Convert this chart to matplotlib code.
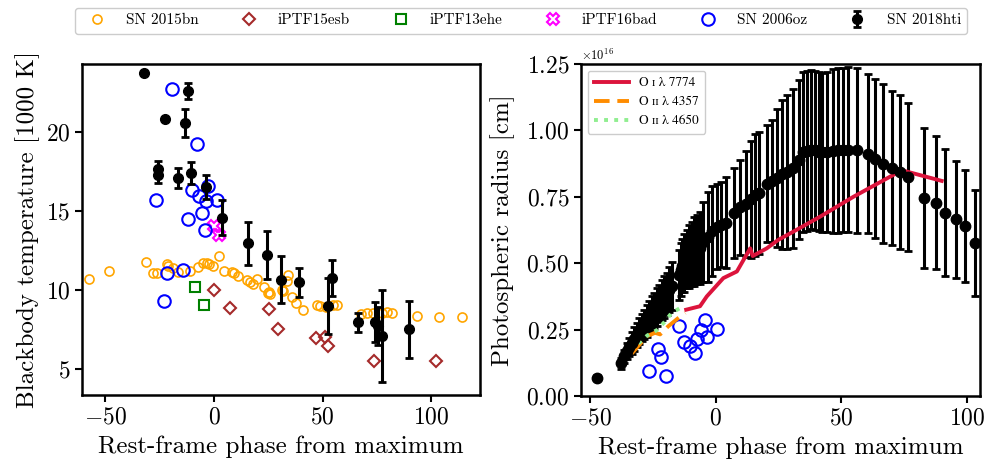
import matplotlib
matplotlib.use("Agg")
import matplotlib.pyplot as plt
import numpy as np

plt.rcParams['font.family'] = 'serif'
plt.rcParams['font.serif'] = ['cmr10', 'DejaVu Serif']
plt.rcParams['mathtext.fontset'] = 'cm'
plt.rcParams['axes.formatter.use_mathtext'] = True
plt.rcParams['axes.unicode_minus'] = True

# ---------------- Left panel data: blackbody temperature ----------------
sn15bn_phase = [-57.4, -48.2, -31.4, -28.2, -26.1, -21.8, -21.0, -19.0, -16.4, -11.0,
                -7.5, -4.9, -3.4, -2.2, -0.3, 2.3, 4.7, 8.1, 9.3, 11.2, 15.0, 16.6,
                17.8, 19.6, 23.1, 25.0, 25.4, 26.0, 31.4, 31.9, 33.4, 34.0, 36.0,
                37.7, 40.8, 47.2, 48.8, 51.5, 54.6, 56.7, 67.5, 70.2, 73.3, 77.1,
                79.4, 81.7, 93.2, 103.6, 114.1]
sn15bn_temp = [10.7, 11.22, 11.8, 11.06, 11.1, 11.65, 11.54, 11.37, 11.16, 11.2,
               11.47, 11.7, 11.7, 11.65, 11.5, 12.17, 11.22, 11.12, 11.06, 10.89,
               10.63, 10.53, 10.38, 10.7, 10.21, 9.81, 9.85, 9.78, 10.02, 9.95,
               10.59, 10.95, 9.58, 9.16, 8.75, 9.07, 8.97, 8.94, 9.05, 9.07, 8.48,
               8.54, 8.54, 8.54, 8.63, 8.53, 8.38, 8.31, 8.31]

esb_phase = [0.0, 7.5, 25.4, 29.6, 46.8, 51.1, 52.4, 73.6, 102.3]
esb_temp = [10.0, 8.88, 8.8, 7.53, 7.0, 7.04, 6.47, 5.5, 5.5]

ehe_phase = [-8.9, -4.7]
ehe_temp = [10.21, 9.03]

bad_phase = [0.0, 2.3]
bad_temp = [14.07, 13.5]

oz_phase = [-19.2, -7.7, -26.5, -10.0, -6.9, -2.6, -3.7, 1.4, -12.1, -5.5, -4.1,
            -21.6, -14.4, -22.9]
oz_temp = [22.7, 19.24, 15.7, 16.3, 15.95, 16.55, 15.6, 15.7, 14.47, 14.87, 13.78,
           11.06, 11.27, 9.28]

hti_phase = [-32.1, -22.7, -12.1, -13.2, -25.6, -25.6, -16.7, -10.6, -3.8, 3.7,
             15.6, 24.2, 30.8, 39.3, 52.4, 54.4, 66.5, 74.1, 75.5, 77.3, 89.6]
hti_temp = [23.7, 20.8, 22.55, 20.55, 17.66, 17.28, 17.07, 17.4, 16.5, 14.56,
            12.95, 12.2, 10.65, 10.49, 9.0, 10.76, 7.95, 7.99, 7.7, 7.09, 7.53]
hti_terr = [0.1, 0.15, 0.5, 0.9, 0.5, 0.5, 0.65, 0.7, 0.75, 1.1,
            1.35, 1.5, 1.48, 0.9, 1.75, 1.15, 0.58, 1.25, 1.2, 2.9, 1.8]

# ---------------- Right panel data: photospheric radius (1e16 cm) ----------------
r_phase = [-47.2, -37.7, -36.5, -35.5, -34.5, -33.5, -32.5, -31.5, -30.5, -29.5,
           -28.5, -27.5, -26.5, -25.5, -24.5, -23.5, -22.5, -21.5, -20.5, -19.5,
           -18.5, -17.5, -14.5, -14.0, -13.3, -12.5, -11.5, -10.5, -9.5, -8.5,
           -7.5, -6.3, -5.0, -3.3, -1.5, 0.4, 2.0, 4.1, 7.4, 9.5, 12.1, 14.0,
           15.7, 17.4, 20.3, 22.5, 24.5, 26.5, 28.5, 30.9, 33.0, 34.9, 36.5,
           38.0, 39.5, 41.0, 42.5, 44.2, 46.5, 48.8, 50.8, 52.8, 56.1, 60.8,
           63.5, 66.8, 70.1, 73.4, 76.7, 83.1, 87.8, 91.4, 95.7, 99.2, 103.3]
r_rad = [0.069, 0.123, 0.150, 0.170, 0.185, 0.200, 0.215, 0.230, 0.245, 0.258,
         0.270, 0.283, 0.296, 0.310, 0.322, 0.335, 0.348, 0.360, 0.372, 0.385,
         0.400, 0.415, 0.455, 0.475, 0.490, 0.500, 0.515, 0.525, 0.535, 0.545,
         0.550, 0.556, 0.580, 0.600, 0.620, 0.637, 0.645, 0.653, 0.690, 0.710,
         0.723, 0.740, 0.756, 0.763, 0.800, 0.810, 0.820, 0.835, 0.845, 0.857,
         0.890, 0.919, 0.922, 0.928, 0.925, 0.920, 0.918, 0.919, 0.922, 0.925,
         0.926, 0.928, 0.925, 0.913, 0.894, 0.875, 0.857, 0.844, 0.825, 0.746,
         0.728, 0.690, 0.666, 0.640, 0.575]
r_err = [0.01, 0.02, 0.025, 0.03, 0.035, 0.04, 0.045, 0.045, 0.05, 0.05,
         0.055, 0.06, 0.06, 0.065, 0.065, 0.07, 0.07, 0.075, 0.08, 0.08,
         0.085, 0.09, 0.095, 0.10, 0.10, 0.11, 0.11, 0.12, 0.12, 0.13,
         0.13, 0.135, 0.15, 0.17, 0.17, 0.16, 0.16, 0.17, 0.17, 0.18,
         0.20, 0.22, 0.23, 0.23, 0.22, 0.23, 0.26, 0.28, 0.29, 0.30,
         0.30, 0.30, 0.30, 0.30, 0.30, 0.30, 0.30, 0.30, 0.31, 0.31,
         0.31, 0.31, 0.31, 0.30, 0.30, 0.30, 0.29, 0.29, 0.28, 0.265,
         0.25, 0.24, 0.22, 0.21, 0.20]

oz_r_phase = [-26.8, -19.8, -23.1, -21.9, -14.6, -12.5, -10.2, -8.2, -7.3, -6.0,
              -4.3, -3.6, 0.6]
oz_r_rad = [0.094, 0.075, 0.178, 0.148, 0.265, 0.203, 0.19, 0.163, 0.215, 0.248,
            0.285, 0.223, 0.254]

oi7774_phase = [-11.8, -6.3, -3.6, 3.0, 8.4, 13.7, 14.7, 20.3, 24.9, 30.9, 41.5,
                54.8, 74.1, 90.0]
oi7774_rad = [0.325, 0.338, 0.375, 0.444, 0.469, 0.556, 0.527, 0.556, 0.588,
              0.619, 0.675, 0.750, 0.850, 0.810]

oii4357_phase = [-33.5, -27.5, -24.2, -22.2, -18.9, -14.9, -12.2]
oii4357_rad = [0.160, 0.225, 0.238, 0.232, 0.263, 0.294, 0.313]

oii4650_phase = [-33.9, -30.6, -27.3, -23.5, -20.2, -17.6, -13.5]
oii4650_rad = [0.173, 0.200, 0.228, 0.248, 0.281, 0.313, 0.335]

line_labels = ['O ɪ λ 7774', 'O ɪɪ λ 4357', 'O ɪɪ λ 4650']

SCALE = 1e16

fig = plt.figure(figsize=(9.87, 4.66), dpi=100)
axL = fig.add_axes([0.0831, 0.1524, 0.4032, 0.7103])
axR = fig.add_axes([0.5887, 0.1502, 0.4043, 0.7124])

# ---- left panel ----
h1, = axL.plot(sn15bn_phase, sn15bn_temp, 'o', ls='none', mfc='none', mec='orange',
               ms=6.5, mew=1.2, label='SN 2015bn')
h2, = axL.plot(esb_phase, esb_temp, 'D', ls='none', mfc='none', mec='brown',
               ms=6.5, mew=1.5, label='iPTF15esb')
h3, = axL.plot(ehe_phase, ehe_temp, 's', ls='none', mfc='none', mec='green',
               ms=6.5, mew=1.5, label='iPTF13ehe')
h4, = axL.plot(bad_phase, bad_temp, 'X', ls='none', mfc='none', mec='magenta',
               ms=8.5, mew=1.5, label='iPTF16bad')
h5, = axL.plot(oz_phase, oz_temp, 'o', ls='none', mfc='none', mec='blue',
               ms=9, mew=1.5, label='SN 2006oz')
h6 = axL.errorbar(hti_phase, hti_temp, yerr=hti_terr, fmt='o', color='black',
                  ms=7, elinewidth=2.2, capsize=3, capthick=2, label='SN 2018hti')

axL.set_xlim(-60.7, 122.4)
axL.set_ylim(3.37, 24.28)
axL.set_xticks([-50, 0, 50, 100])
axL.set_yticks([5, 10, 15, 20])
axL.set_xlabel('Rest-frame phase from maximum', fontsize=18, labelpad=5)
axL.set_ylabel('Blackbody temperature [1000 K]', fontsize=18)

# ---- right panel ----
axR.errorbar(r_phase, np.array(r_rad) * SCALE, yerr=np.array(r_err) * SCALE,
             fmt='o', color='black', ms=7.5, elinewidth=2.2, capsize=3, capthick=2)
axR.plot(oz_r_phase, np.array(oz_r_rad) * SCALE, 'o', ls='none', mfc='none',
         mec='blue', ms=9, mew=1.5)
l1, = axR.plot(oi7774_phase, np.array(oi7774_rad) * SCALE, '-', color='crimson',
               lw=2.8, label=line_labels[0])
l2, = axR.plot(oii4357_phase, np.array(oii4357_rad) * SCALE, color='darkorange',
               lw=2.8, ls=(0, (4, 2)), label=line_labels[1])
l3, = axR.plot(oii4650_phase, np.array(oii4650_rad) * SCALE, color='lightgreen',
               lw=2.8, ls=(0, (1, 1.6)), label=line_labels[2])

axR.set_xlim(-53.7, 105.3)
axR.set_ylim(0, 1.25 * SCALE)
axR.set_xticks([-50, 0, 50, 100])
axR.set_yticks(np.array([0, 0.25, 0.5, 0.75, 1.0, 1.25]) * SCALE)
axR.set_xlabel('Rest-frame phase from maximum', fontsize=18, labelpad=5)
axR.set_ylabel('Photospheric radius [cm]', fontsize=18, labelpad=8)
axR.yaxis.get_offset_text().set_fontsize(9)
axR.legend(handles=[l1, l2, l3], loc='upper left', handlelength=2.6,
           framealpha=1, borderpad=0.5,
           prop={'family': ['STIXGeneral', 'DejaVu Serif'], 'size': 9.5})

for ax in (axL, axR):
    for s in ax.spines.values():
        s.set_linewidth(1.8)
    ax.tick_params(axis='both', which='major', labelsize=17, direction='out',
                   length=5, width=1.5, top=False, right=False)

fig.legend(handles=[h1, h2, h3, h4, h5, h6], loc='upper center',
           bbox_to_anchor=(0.528, 1.0), ncol=6, fontsize=11, columnspacing=2.3,
           handletextpad=0.9, borderpad=0.4, framealpha=1)

fig.savefig('out.png', dpi=100)
